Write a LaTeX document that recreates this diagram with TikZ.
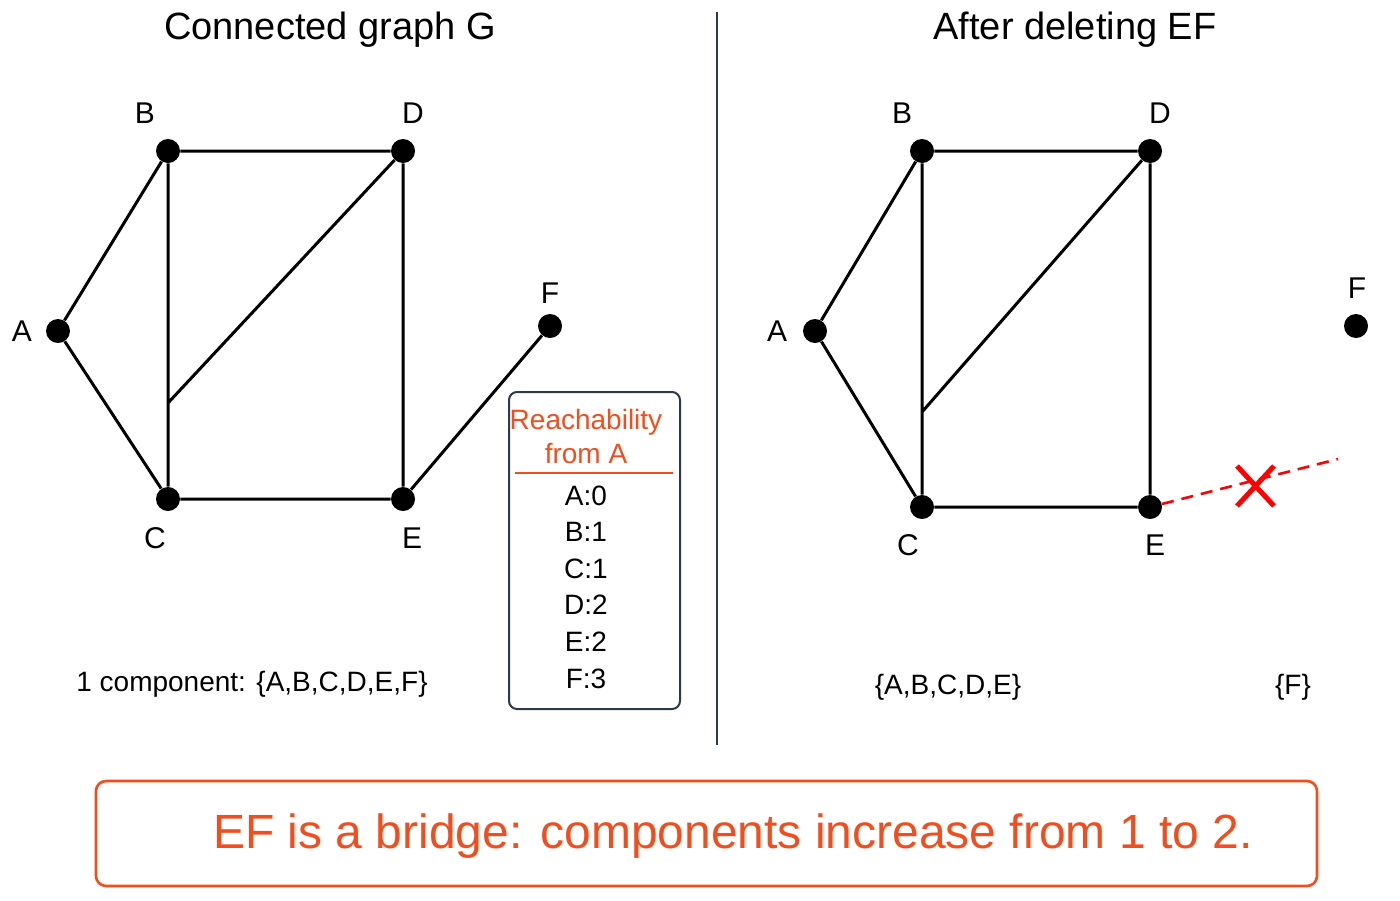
\documentclass[tikz,border=0pt]{standalone}
\usepackage{fontspec}
\setmainfont{Liberation Sans}
\begin{document}
\begin{tikzpicture}[x=0.5pt,y=-0.5pt,
  v/.style={circle,fill=black,inner sep=0pt,minimum size=12pt},
  e/.style={line width=1.5pt},
  lab/.style={font=\fontsize{15}{18}\selectfont},
  txt/.style={font=\fontsize{14}{17}\selectfont}]
\definecolor{org}{HTML}{F04E1E}
\definecolor{bord}{HTML}{2E3A4A}
\useasboundingbox (0,0) rectangle (1400,900);
% titles
\node[font=\fontsize{19}{22}\selectfont] (t1) at (330,30) {Connected graph G};
\node[font=\fontsize{19}{22}\selectfont] (t2) at (1075,30) {After deleting EF};
\coordinate (d1) at (717,12); \coordinate (d2) at (717,745);
\draw[bord,line width=0.6pt] (d1)--(d2);
% left graph
\node[v] (A) at (58,331) {}; \node[v] (B) at (168,151) {};
\node[v] (D) at (403,151) {}; \node[v] (C) at (168,499) {};
\node[v] (E) at (403,499) {}; \node[v] (F) at (550,326) {};
\coordinate (M) at (168,403);
\draw[e] (A)--(B) (B)--(D) (B)--(C) (A)--(C) (M)--(D) (D)--(E) (C)--(E) (E)--(F);
\node[lab] at (145,113) {B}; \node[lab] at (413,113) {D};
\node[lab] at (22,331) {A}; \node[lab] at (550,293) {F};
\node[lab] at (155,538) {C}; \node[lab] at (412,538) {E};
% reachability box
\draw[bord,line width=1pt,rounded corners=4pt] (509,392) rectangle (680,709);
\node[txt,org,align=center] (rh) at (586,436) {Reachability\\from A};
\coordinate (r1) at (515,473); \coordinate (r2) at (673,473);
\draw[org,line width=1pt] (r1)--(r2);
\foreach \t/\y in {A:0/496,B:1/532,C:1/569,D:2/605,E:2/642,F:3/679}
  \node[txt] at (586,\y) {\t};
\node[txt] (c1) at (252,684) {1 component: \{A,B,C,D,E,F\}};
% right graph
\node[v] (A2) at (815,331) {}; \node[v] (B2) at (922,151) {};
\node[v] (D2) at (1150,151) {}; \node[v] (C2) at (922,507) {};
\node[v] (E2) at (1150,507) {}; \node[v] (F2) at (1356,326) {};
\coordinate (M2) at (922,412);
\draw[e] (A2)--(B2) (B2)--(D2) (B2)--(C2) (A2)--(C2) (M2)--(D2) (D2)--(E2) (C2)--(E2);
\coordinate (Fend) at (1338,459);
\draw[red,line width=1.3pt,dash pattern=on 6pt off 4pt] (E2)--(Fend);
\draw[red,line width=2.5pt] (1237,466)--(1274,506) (1237,506)--(1274,466);
\node[lab] at (902,113) {B}; \node[lab] at (1160,113) {D};
\node[lab] at (777,331) {A}; \node[lab] at (1357,288) {F};
\node[lab] at (908,545) {C}; \node[lab] at (1155,545) {E};
\node[txt] (c2) at (948,687) {\{A,B,C,D,E\}};
\node[txt] (c3) at (1293,687) {\{F\}};
% bottom
\draw[org,line width=1.3pt,rounded corners=5pt] (96,781) rectangle (1317,886);
\node[org,font=\fontsize{24}{28}\selectfont] (bt) at (733,836) {EF is a bridge: components increase from 1 to 2.};
\end{tikzpicture}
\end{document}
